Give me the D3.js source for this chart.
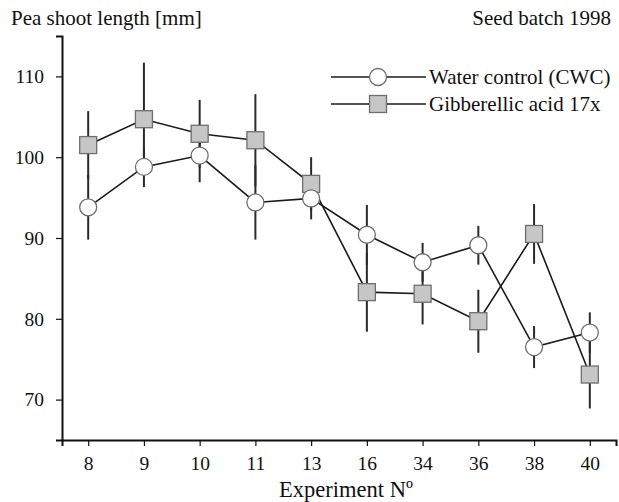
<!DOCTYPE html>
<html>
<head>
<meta charset="utf-8">
<script src="https://cdn.jsdelivr.net/npm/d3@7"></script>
<style>
  body { margin: 0; background: #fff; }
  svg text { font-family: "Liberation Serif", "DejaVu Serif", serif; fill: #111; }
</style>
</head>
<body>
<div class="chart"></div>
<script>
let experiments = ["8", "9", "10", "11", "13", "16", "34", "36", "38", "40"];
let waterMean = [93.8, 98.8, 100.2, 94.4, 94.9, 90.4, 87.0, 89.1, 76.5, 78.3];
let waterErr  = [4.0, 2.5, 3.3, 4.6, 2.6, 3.7, 2.4, 2.4, 2.6, 2.5];
let gaMean    = [101.5, 104.7, 102.9, 102.1, 96.7, 83.3, 83.1, 79.7, 90.5, 73.1];
let gaErr     = [4.2, 7.0, 4.2, 5.7, 3.3, 4.9, 3.8, 3.9, 3.7, 4.2];
let yTicks    = [70, 80, 90, 100, 110];
let seriesNames = ["Water control (CWC)", "Gibberellic acid 17x"];

let width = 619, height = 502;
let mLeft = 62, mRight = 616, mTop = 36, mBottom = 440;

let svg = d3.select(".chart")
    .append("svg")
    .attr("width", width)
    .attr("height", height);

let xScale = d3.scalePoint()
    .domain(experiments)
    .range([mLeft, mRight])
    .padding(0.47);

let yScale = d3.scaleLinear()
    .domain([65, 115])
    .range([mBottom, mTop]);

// axes
let xAxis = svg.append("g")
    .attr("transform", "translate(0," + mBottom + ")")
    .call(d3.axisBottom(xScale).tickSizeOuter(0).tickSize(6).tickPadding(10));

let yAxis = svg.append("g")
    .attr("transform", "translate(" + mLeft + ",0)")
    .call(d3.axisLeft(yScale).tickValues(yTicks).tickSizeOuter(0).tickSize(6).tickPadding(12));

[xAxis, yAxis].forEach(g => {
    g.select(".domain").attr("stroke", "#111").attr("stroke-width", 2);
    g.selectAll(".tick line").attr("stroke", "#111").attr("stroke-width", 1.2);
    g.selectAll(".tick text")
        .style("font-size", "19.5px")
        .style("font-family", "Liberation Serif, serif")
        .attr("fill", "#111");
});

// titles
svg.append("text").attr("x", 11).attr("y", 25)
    .style("font-size", "21px").text("Pea shoot length [mm]");
svg.append("text").attr("x", 611).attr("y", 25).attr("text-anchor", "end")
    .style("font-size", "21px").text("Seed batch 1998");
svg.append("text").attr("x", 346).attr("y", 497).attr("text-anchor", "middle")
    .style("font-size", "22.5px").text("Experiment N\u00ba");

// data lines
let waterData = experiments.map((e, i) => ({ x: e, y: waterMean[i], err: waterErr[i] }));
let gaData = experiments.map((e, i) => ({ x: e, y: gaMean[i], err: gaErr[i] }));

let line = d3.line()
    .x(d => xScale(d.x))
    .y(d => yScale(d.y));

// error bars
[gaData, waterData].forEach(data => {
    svg.append("g").selectAll("line")
        .data(data)
        .enter()
        .append("line")
        .attr("x1", d => xScale(d.x))
        .attr("x2", d => xScale(d.x))
        .attr("y1", d => yScale(d.y - d.err))
        .attr("y2", d => yScale(d.y + d.err))
        .attr("stroke", "#2a2a2a")
        .attr("stroke-width", 2);
});

svg.append("path")
    .datum(gaData)
    .attr("d", line)
    .attr("fill", "none")
    .attr("stroke", "#1a1a1a")
    .attr("stroke-width", 1.6);

svg.append("path")
    .datum(waterData)
    .attr("d", line)
    .attr("fill", "none")
    .attr("stroke", "#1a1a1a")
    .attr("stroke-width", 1.6);

let sq = 17, r = 8.5;

svg.append("g").selectAll("rect")
    .data(gaData)
    .enter()
    .append("rect")
    .attr("x", d => xScale(d.x) - sq / 2)
    .attr("y", d => yScale(d.y) - sq / 2)
    .attr("width", sq)
    .attr("height", sq)
    .attr("fill", "#c6c6c6")
    .attr("stroke", "#6e6e6e")
    .attr("stroke-width", 1.3);

svg.append("g").selectAll("circle")
    .data(waterData)
    .enter()
    .append("circle")
    .attr("cx", d => xScale(d.x))
    .attr("cy", d => yScale(d.y))
    .attr("r", r)
    .attr("fill", "#fff")
    .attr("stroke", "#6e6e6e")
    .attr("stroke-width", 1.3);

// legend
let legend = svg.append("g");
let legendY = [77, 104];
seriesNames.forEach((name, i) => {
    legend.append("line")
        .attr("x1", 331).attr("x2", 426)
        .attr("y1", legendY[i]).attr("y2", legendY[i])
        .attr("stroke", "#1a1a1a").attr("stroke-width", 1.6);
    if (i === 0) {
        legend.append("circle")
            .attr("cx", 378).attr("cy", legendY[i]).attr("r", r)
            .attr("fill", "#fff").attr("stroke", "#6e6e6e").attr("stroke-width", 1.3);
    } else {
        legend.append("rect")
            .attr("x", 378 - sq / 2).attr("y", legendY[i] - sq / 2)
            .attr("width", sq).attr("height", sq)
            .attr("fill", "#c6c6c6").attr("stroke", "#6e6e6e").attr("stroke-width", 1.3);
    }
    legend.append("text")
        .attr("x", 429).attr("y", legendY[i] + 7)
        .style("font-size", "21px")
        .text(name);
});
</script>
</body>
</html>
